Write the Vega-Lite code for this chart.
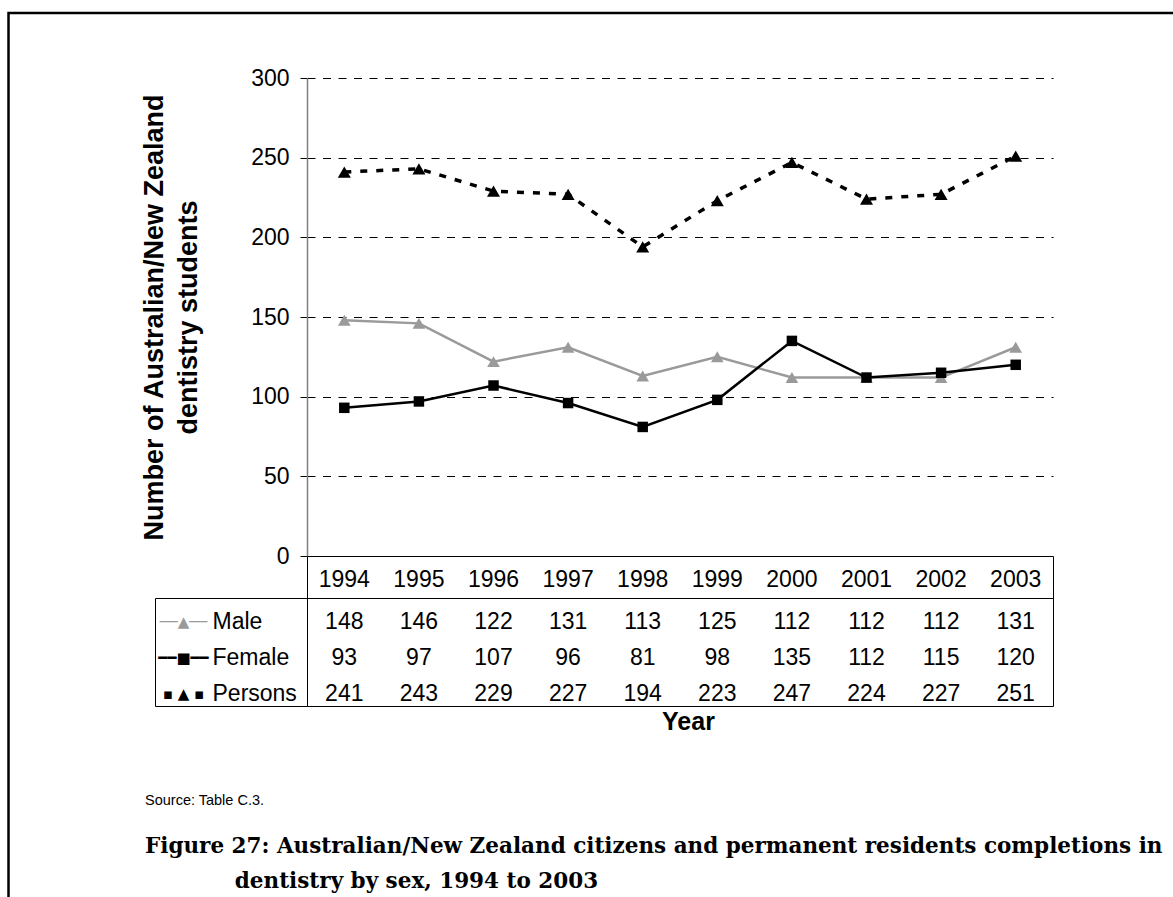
{
  "$schema": "https://vega.github.io/schema/vega-lite/v6.json",
  "background": "white",
  "padding": {"left": 8, "top": 13, "right": 0, "bottom": 0},
  "data": {"values": [
    {"year": 1994, "series": "Male", "value": 148},
    {"year": 1995, "series": "Male", "value": 146},
    {"year": 1996, "series": "Male", "value": 122},
    {"year": 1997, "series": "Male", "value": 131},
    {"year": 1998, "series": "Male", "value": 113},
    {"year": 1999, "series": "Male", "value": 125},
    {"year": 2000, "series": "Male", "value": 112},
    {"year": 2001, "series": "Male", "value": 112},
    {"year": 2002, "series": "Male", "value": 112},
    {"year": 2003, "series": "Male", "value": 131},
    {"year": 1994, "series": "Female", "value": 93},
    {"year": 1995, "series": "Female", "value": 97},
    {"year": 1996, "series": "Female", "value": 107},
    {"year": 1997, "series": "Female", "value": 96},
    {"year": 1998, "series": "Female", "value": 81},
    {"year": 1999, "series": "Female", "value": 98},
    {"year": 2000, "series": "Female", "value": 135},
    {"year": 2001, "series": "Female", "value": 112},
    {"year": 2002, "series": "Female", "value": 115},
    {"year": 2003, "series": "Female", "value": 120},
    {"year": 1994, "series": "Persons", "value": 241},
    {"year": 1995, "series": "Persons", "value": 243},
    {"year": 1996, "series": "Persons", "value": 229},
    {"year": 1997, "series": "Persons", "value": 227},
    {"year": 1998, "series": "Persons", "value": 194},
    {"year": 1999, "series": "Persons", "value": 223},
    {"year": 2000, "series": "Persons", "value": 247},
    {"year": 2001, "series": "Persons", "value": 224},
    {"year": 2002, "series": "Persons", "value": 227},
    {"year": 2003, "series": "Persons", "value": 251}
  ]},
  "columns": 2,
  "spacing": 0,
  "bounds": "flush",
  "concat": [
    {
      "width": 152,
      "height": 478,
      "mark": {"type": "point", "opacity": 0},
      "encoding": {
        "x": {"field": "year", "type": "ordinal", "scale": {"type": "band", "paddingInner": 0, "paddingOuter": 0}, "axis": null},
        "y": {
          "field": "value",
          "type": "quantitative",
          "scale": {"domain": [0, 300], "nice": false},
          "axis": {
            "orient": "left",
            "offset": -152,
            "values": [0, 50, 100, 150, 200, 250, 300],
            "domain": false,
            "grid": false,
            "ticks": true,
            "tickSize": 7,
            "tickColor": "black",
            "labelFontSize": 23,
            "labelPadding": 11,
            "labelColor": "black",
            "title": ["Number of Australian/New Zealand", "dentistry students"],
            "titleFontSize": 27,
            "titleFontWeight": "bold",
            "titleLineHeight": 34,
            "titlePadding": 48,
            "titleColor": "black"
          }
        },
        "color": {
          "datum": 0,
          "type": "quantitative",
          "scale": {"domain": [0, 1], "range": ["transparent", "transparent"]},
          "legend": {
            "orient": "none",
            "legendX": -146.5,
            "legendY": -65,
            "direction": "horizontal",
            "title": null,
            "padding": 0,
            "gradientLength": 1180,
            "gradientThickness": 900,
            "gradientStrokeColor": "black",
            "gradientStrokeWidth": 2.5,
            "labelOpacity": 0,
            "labelFontSize": 2,
            "labelExpr": "''",
            "tickCount": 2
          }
        }
      }
    },
    {
      "width": 746,
      "height": 478,
      "encoding": {
        "x": {"field": "year", "type": "ordinal", "scale": {"type": "band", "paddingInner": 0, "paddingOuter": 0}, "axis": null},
        "y": {
          "field": "value",
          "type": "quantitative",
          "scale": {"domain": [0, 300], "nice": false},
          "axis": {
            "values": [50, 100, 150, 200, 250, 300],
            "labels": false,
            "ticks": false,
            "domain": true,
            "domainColor": "#808080",
            "domainWidth": 1.5,
            "grid": true,
            "gridColor": "black",
            "gridDash": [8, 7.5],
            "gridWidth": 1,
            "title": null
          }
        }
      },
      "layer": [
        {"transform": [{"filter": "datum.series === 'Male'"}], "mark": {"type": "line", "color": "#9a9a9a", "strokeWidth": 2.5}},
        {"transform": [{"filter": "datum.series === 'Female'"}], "mark": {"type": "line", "color": "black", "strokeWidth": 2.5}},
        {"transform": [{"filter": "datum.series === 'Persons'"}], "mark": {"type": "line", "color": "black", "strokeWidth": 3.5, "strokeDash": [7, 9]}},
        {"transform": [{"filter": "datum.series === 'Male'"}], "mark": {"type": "point", "shape": "triangle-up", "filled": true, "color": "#9a9a9a", "size": 160, "opacity": 1}},
        {"transform": [{"filter": "datum.series === 'Female'"}], "mark": {"type": "point", "shape": "square", "filled": true, "color": "black", "size": 110, "opacity": 1}},
        {"transform": [{"filter": "datum.series === 'Persons'"}], "mark": {"type": "point", "shape": "triangle-up", "filled": true, "color": "black", "size": 169, "opacity": 1}}
      ]
    },
    {
      "width": 152,
      "height": 42,
      "mark": {"type": "text", "text": "", "opacity": 0},
      "encoding": {
        "x": {"field": "year", "type": "ordinal", "scale": {"type": "band", "paddingInner": 0, "paddingOuter": 0}, "axis": null},
        "y": {"field": "series", "type": "nominal", "scale": {"type": "band"}, "axis": null}
      }
    },
    {
      "width": 746,
      "height": 42,
      "view": {"stroke": "black", "strokeWidth": 1},
      "transform": [{"filter": "datum.series === 'Male'"}],
      "mark": {"type": "text", "fontSize": 23, "color": "black", "font": "Liberation Sans", "dy": 3},
      "encoding": {
        "x": {"field": "year", "type": "ordinal", "scale": {"type": "band", "paddingInner": 0, "paddingOuter": 0}, "axis": null},
        "y": {"field": "series", "type": "nominal", "scale": {"type": "band"}, "axis": null},
        "text": {"field": "year", "type": "ordinal"}
      }
    },
    {
      "width": 152,
      "height": 108,
      "view": {"stroke": "black", "strokeWidth": 1},
      "title": {
        "text": "Source: Table C.3.",
        "subtitle": [
          "Figure 27: Australian/New Zealand citizens and permanent residents completions in",
          "\u200b\u00a0\u00a0\u00a0\u00a0\u00a0\u00a0\u00a0\u00a0\u00a0\u00a0\u00a0\u00a0dentistry by sex, 1994 to 2003"
        ],
        "orient": "bottom",
        "anchor": "start",
        "frame": "group",
        "dx": -10,
        "font": "Liberation Sans",
        "fontSize": 14.5,
        "fontWeight": "normal",
        "color": "black",
        "offset": 88,
        "subtitleFont": "DejaVu Serif",
        "subtitleFontSize": 21.5,
        "subtitleFontWeight": "bold",
        "subtitleColor": "black",
        "subtitleLineHeight": 35,
        "subtitlePadding": 27
      },
      "transform": [{"filter": "datum.year === 1994"}],
      "encoding": {
        "x": {"field": "year", "type": "ordinal", "scale": {"type": "band", "paddingInner": 0, "paddingOuter": 0}, "axis": null}
      },
      "layer": [
        {
          "mark": {"type": "text", "text": "", "opacity": 0},
          "encoding": {
            "y": {
              "field": "series",
              "type": "nominal",
              "scale": {"type": "band", "domain": ["Male", "Female", "Persons"], "paddingInner": 0, "paddingOuter": 0},
              "axis": {"orient": "left", "offset": -152, "domain": false, "ticks": false, "labelAlign": "left", "labelPadding": 95, "labelOffset": 6, "labelFontSize": 23, "labelColor": "black", "labelFont": "Liberation Sans", "title": null}
            }
          }
        },
        {
          "mark": {"type": "text", "text": "", "opacity": 0},
          "encoding": {
            "y": {
              "field": "series",
              "type": "nominal",
              "scale": {"type": "band", "domain": ["Male", "Female", "Persons"], "paddingInner": 0, "paddingOuter": 0},
              "axis": {
                "orient": "left",
                "offset": -152,
                "domain": false,
                "ticks": false,
                "labelAlign": "center",
                "labelPadding": 124,
                "labelOffset": 6,
                "labelFont": "DejaVu Sans",
                "labelFontSize": 15,
                "labelColor": {"condition": {"test": "datum.value === 'Male'", "value": "#9a9a9a"}, "value": "black"},
                "labelExpr": "datum.value === 'Male' ? '──▲──' : datum.value === 'Female' ? '━━■━━' : '▪ ▲ ▪'",
                "title": null
              }
            }
          }
        }
      ],
      "resolve": {"axis": {"y": "independent"}}
    },
    {
      "width": 746,
      "height": 108,
      "view": {"stroke": "black", "strokeWidth": 1},
      "mark": {"type": "text", "fontSize": 23, "color": "black", "font": "Liberation Sans", "dy": 6},
      "encoding": {
        "x": {
          "field": "year",
          "type": "ordinal",
          "scale": {"type": "band", "paddingInner": 0, "paddingOuter": 0},
          "axis": {"orient": "bottom", "labels": false, "ticks": false, "domain": false, "title": "Year", "titleX": 381, "titleFontSize": 25, "titleFontWeight": "bold", "titleFont": "Liberation Sans", "titlePadding": 3, "titleColor": "black"}
        },
        "y": {
          "field": "series",
          "type": "nominal",
          "scale": {"type": "band", "domain": ["Male", "Female", "Persons"], "paddingInner": 0, "paddingOuter": 0},
          "axis": null
        },
        "text": {"field": "value", "type": "quantitative"}
      }
    }
  ],
  "config": {
    "view": {"stroke": null},
    "font": "Liberation Sans",
    "axis": {"labelFont": "Liberation Sans", "titleFont": "Liberation Sans"}
  }
}
